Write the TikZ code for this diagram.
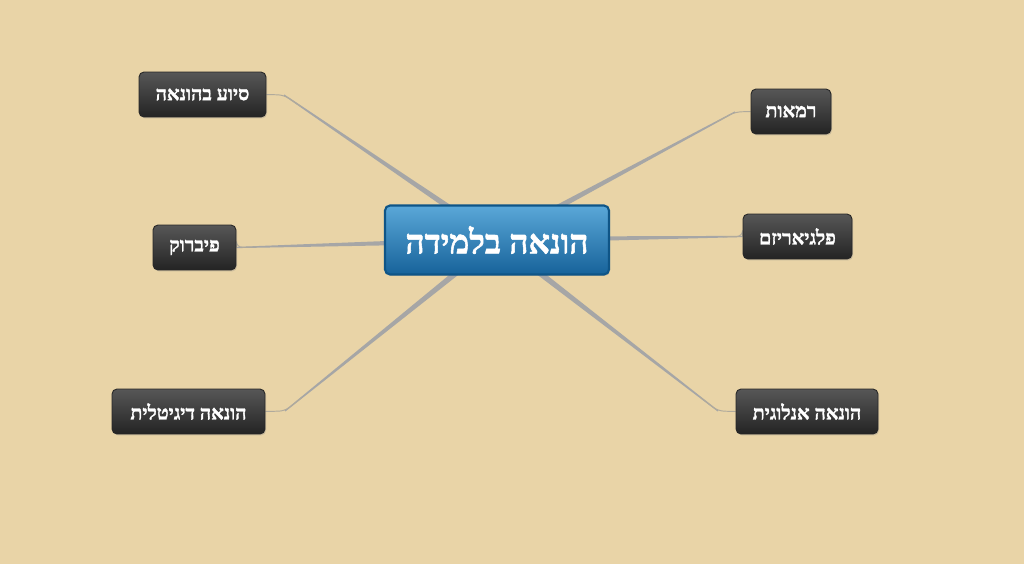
\documentclass[tikz,border=0pt]{standalone}
\usepackage{fontspec}
\newfontfamily\hebfont[Script=Hebrew, FakeBold=1.6]{Liberation Serif Bold}
\TeXXeTstate=1
\usetikzlibrary{backgrounds,calc,shadows}

\definecolor{parchment}{HTML}{E9D4A7}
\definecolor{limbgray}{RGB}{166,166,166}
\definecolor{twiggray}{RGB}{176,170,156}
\definecolor{hubtop}{HTML}{5AA7D8}
\definecolor{hubbot}{HTML}{17639A}
\definecolor{hubrim}{HTML}{0F5587}

\newcommand\heb[1]{\hebfont\beginR #1\endR}

% tapered branch: hub -> elbow, then a thin twig into the leaf
\newcommand\branch[3]{%
  \fill[limbgray] ($(#1)!1.9pt!90:(#2)$) -- ($(#2)!0.35pt!-90:(#1)$)
    -- ($(#2)!0.35pt!90:(#1)$) -- ($(#1)!1.9pt!-90:(#2)$) -- cycle;
  \draw[twig] ($(#1)!0.92!(#2)$) -- (#2) -- (#3);
}

\tikzset{
  topic/.style={rectangle, rounded corners=0.1cm, draw=hubrim, line width=1.2pt,
    top color=hubtop, bottom color=hubbot, text=white,
    minimum width=4.48cm, minimum height=1.38cm,
    font=\fontsize{19}{22}\selectfont,
    drop shadow={opacity=0.25, shadow xshift=0.6pt, shadow yshift=-0.8pt}},
  leaf/.style={rectangle, rounded corners=0.1cm, draw=black!85, line width=0.5pt,
    top color=black!66, bottom color=black!86, text=white,
    minimum height=0.9cm, inner sep=0pt,
    font=\fontsize{11.2}{13}\selectfont,
    drop shadow={opacity=0.3, shadow xshift=0.6pt, shadow yshift=-0.8pt}},
  twig/.style={twiggray, line width=0.55pt, rounded corners=0.12cm},
}

\begin{document}
\begin{tikzpicture}[x=0.02cm, y=-0.02cm]
  \useasboundingbox (0,0) rectangle (1024,564);

  \node[topic] (hub) at (497,240) {\heb{הונאה בלמידה}};

  \node[leaf, minimum width=2.54cm] (siyua) at (202.5,94.5) {\heb{סיוע בהונאה}};
  \node[leaf, minimum width=1.66cm] (pibruk) at (194.5,247.5) {\heb{פיברוק}};
  \node[leaf, minimum width=3.06cm] (digital) at (188.5,411.5) {\heb{הונאה דיגיטלית}};
  \node[leaf, minimum width=1.60cm] (ramaut) at (791,111.5) {\heb{רמאות}};
  \node[leaf, minimum width=2.18cm] (plagiat) at (797.5,236.5) {\heb{פלגיאריזם}};
  \node[leaf, minimum width=2.84cm] (analog) at (807,411.5) {\heb{הונאה אנלוגית}};

  \coordinate (e1) at (284,95);
  \coordinate (e2) at (285,411);
  \coordinate (e3) at (735,112);
  \coordinate (e4) at (718,411);

  \begin{pgfonlayer}{background}
    \fill[parchment] (0,0) rectangle (1024,564);
    \branch{hub.center}{e1}{siyua.east}
    \branch{hub.center}{pibruk.east}{pibruk.east}
    \branch{hub.center}{e2}{digital.east}
    \branch{hub.center}{e3}{ramaut.west}
    \branch{hub.center}{plagiat.west}{plagiat.west}
    \branch{hub.center}{e4}{analog.west}
  \end{pgfonlayer}
\end{tikzpicture}
\end{document}
